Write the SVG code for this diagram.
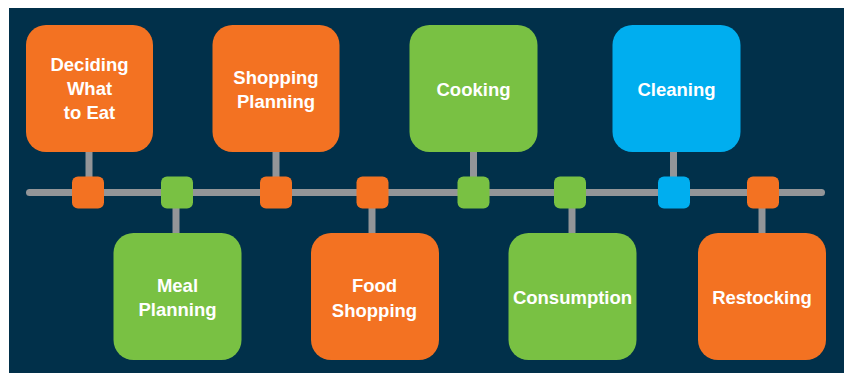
<svg xmlns="http://www.w3.org/2000/svg" width="844" height="373" viewBox="0 0 844 373">
  <style>
    .bg { fill: #01304A; }
    .orange { fill: #F37222; }
    .green { fill: #79C143; }
    .blue { fill: #00AEEF; }
    .box { rx: 20px; ry: 20px; }
    .dot { rx: 6px; ry: 6px; }
    .wire { stroke: #939598; stroke-width: 7; fill: none; }
    .axis { stroke-linecap: round; }
    .label { font-family: "Liberation Sans", Arial, Helvetica, sans-serif; font-weight: bold; font-size: 18.5px; fill: #FFFFFF; text-anchor: middle; }
  </style>

  <rect class="bg" x="9" y="8" width="835" height="365"/>

  <!-- timeline axis and stems -->
  <g id="connectors">
    <line class="wire axis" x1="29.5" y1="192.5" x2="821.5" y2="192.5"/>
    <line class="wire" x1="89" y1="152" x2="89" y2="180"/>
    <line class="wire" x1="176" y1="205" x2="176" y2="233"/>
    <line class="wire" x1="276" y1="152" x2="276" y2="180"/>
    <line class="wire" x1="372" y1="205" x2="372" y2="233"/>
    <line class="wire" x1="473.5" y1="152" x2="473.5" y2="180"/>
    <line class="wire" x1="572" y1="205" x2="572" y2="233"/>
    <line class="wire" x1="673.5" y1="152" x2="673.5" y2="180"/>
    <line class="wire" x1="762" y1="205" x2="762" y2="233"/>
  </g>

  <g id="deciding-what-to-eat">
    <rect class="box orange" x="26" y="25" width="127" height="127"/>
    <rect class="dot orange" x="72" y="176.5" width="32" height="32"/>
    <text class="label" x="89.5"><tspan x="89.5" y="71">Deciding</tspan><tspan x="89.5" y="95">What</tspan><tspan x="89.5" y="119">to Eat</tspan></text>
  </g>

  <g id="meal-planning">
    <rect class="box green" x="113.5" y="233" width="128" height="127"/>
    <rect class="dot green" x="161" y="176.5" width="32" height="32"/>
    <text class="label"><tspan x="177.5" y="291.5">Meal</tspan><tspan x="177.5" y="316">Planning</tspan></text>
  </g>

  <g id="shopping-planning">
    <rect class="box orange" x="212.5" y="25" width="127" height="127"/>
    <rect class="dot orange" x="260" y="176.5" width="32" height="32"/>
    <text class="label"><tspan x="276" y="84">Shopping</tspan><tspan x="276" y="107.5">Planning</tspan></text>
  </g>

  <g id="food-shopping">
    <rect class="box orange" x="311" y="233" width="128" height="127"/>
    <rect class="dot orange" x="356.5" y="176.5" width="32" height="32"/>
    <text class="label"><tspan x="374.5" y="291.5">Food</tspan><tspan x="374.5" y="316.5">Shopping</tspan></text>
  </g>

  <g id="cooking">
    <rect class="box green" x="409.5" y="25" width="128" height="127"/>
    <rect class="dot green" x="457.5" y="176.5" width="32" height="32"/>
    <text class="label" x="473.5" y="95.5">Cooking</text>
  </g>

  <g id="consumption">
    <rect class="box green" x="508.5" y="233" width="128" height="127"/>
    <rect class="dot green" x="554" y="176.5" width="32" height="32"/>
    <text class="label" x="572.5" y="303.5">Consumption</text>
  </g>

  <g id="cleaning">
    <rect class="box blue" x="612.5" y="25" width="128" height="127"/>
    <rect class="dot blue" x="658" y="176.5" width="32" height="32"/>
    <text class="label" x="676.5" y="95.5">Cleaning</text>
  </g>

  <g id="restocking">
    <rect class="box orange" x="698" y="233" width="128" height="127"/>
    <rect class="dot orange" x="747" y="176.5" width="32" height="32"/>
    <text class="label" x="762" y="303.5">Restocking</text>
  </g>
</svg>
